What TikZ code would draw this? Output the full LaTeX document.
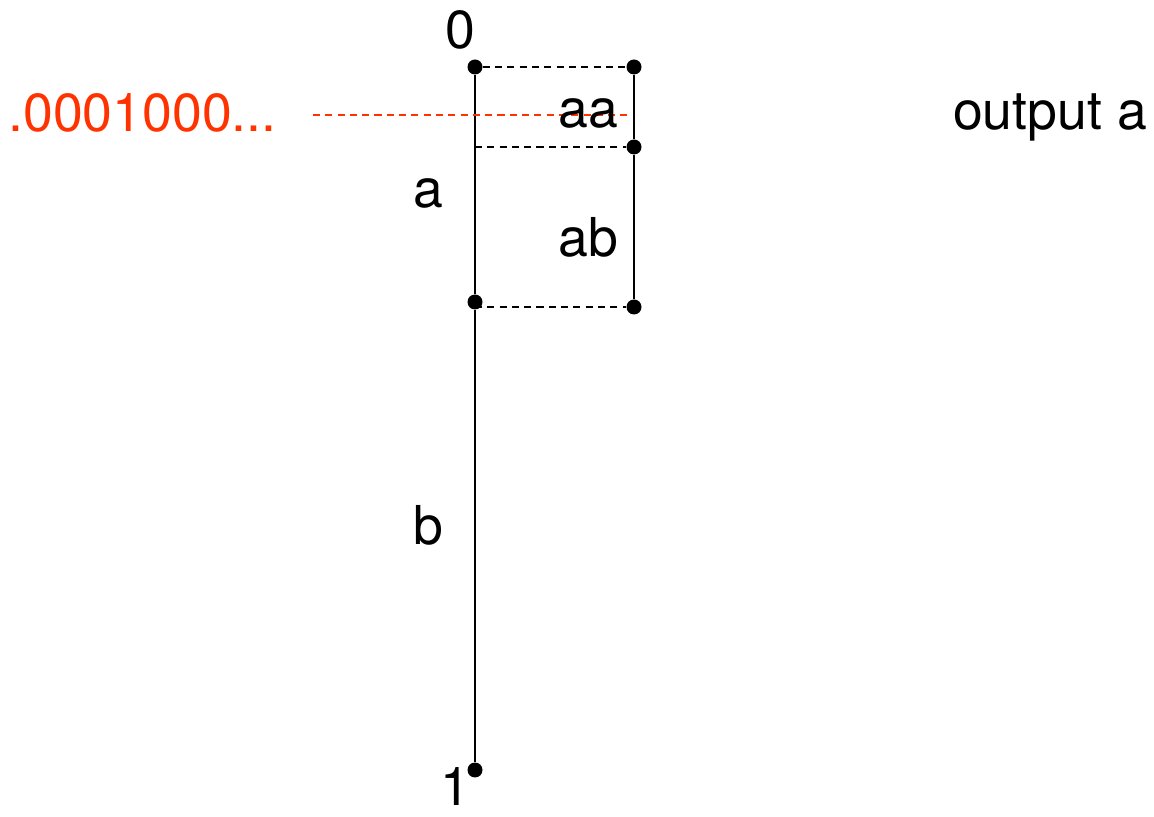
\documentclass[tikz,border=0pt]{standalone}
\usepackage{fontspec}
\setmainfont{TeX Gyre Heros}
\definecolor{binred}{RGB}{255,51,0}
\begin{document}
\begin{tikzpicture}[x=0.02cm, y=-0.02cm,
  dot/.style={circle, fill=black, inner sep=0pt, minimum size=0.3cm},
  lbl/.style={anchor=base, inner sep=0pt, font=\fontsize{30.5}{36}\selectfont},
  seg/.style={line width=1.1pt},
  sub/.style={dashed, line width=0.9pt, dash pattern=on 4pt off 3pt}]
  \useasboundingbox (0,0) rectangle (1154,817);
  % main interval [0,1)
  \node[dot] (top) at (475,67) {};
  \node[dot] (mid) at (475,302) {};
  \node[dot] (bot) at (475,770) {};
  \draw[seg] (top) -- (mid) -- (bot);
  % refined interval for a
  \node[dot] (rtop) at (634,67) {};
  \node[dot] (rmid) at (634,147) {};
  \node[dot] (rbot) at (634,307) {};
  \draw[seg] (rtop) -- (rmid) -- (rbot);
  \coordinate (cmid) at (475,147);
  \coordinate (cbot) at (475,307);
  \draw[sub] (top) -- (rtop);
  \draw[sub] (cmid) -- (rmid);
  \draw[sub] (cbot) -- (rbot);
  % code value
  \coordinate (codeL) at (313,115);
  \coordinate (codeR) at (630,115);
  \draw[sub, binred] (codeL) -- (codeR);
  \node[lbl, binred, anchor=base east] (code) at (277,132) {.0001000...};
  % labels
  \node[lbl] (zero) at (460,49) {0};
  \node[lbl] (one) at (455,806) {1};
  \node[lbl] (la) at (428,208) {a};
  \node[lbl] (lb) at (428,545) {b};
  \node[lbl] (laa) at (588,128) {aa};
  \node[lbl] (lab) at (588,257) {ab};
  \node[lbl] (out) at (1050,130) {output a};
\end{tikzpicture}
\end{document}
